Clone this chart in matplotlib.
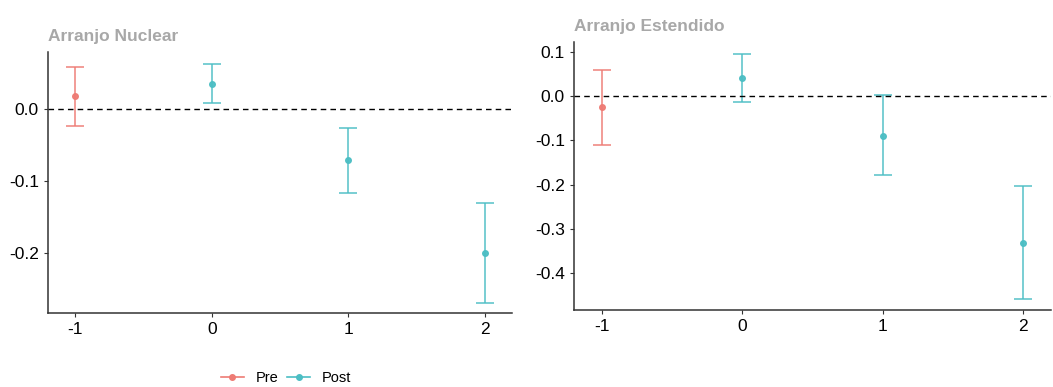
import matplotlib.pyplot as plt
from matplotlib.lines import Line2D

plt.rcParams['font.family'] = ['Liberation Sans', 'DejaVu Sans']
plt.rcParams['axes.unicode_minus'] = False

periods = [-1, 0, 1, 2]
groups = ['Pre', 'Post', 'Post', 'Post']

nuclear_est = [0.018, 0.035, -0.071, -0.200]
nuclear_lo = [-0.023, 0.008, -0.117, -0.269]
nuclear_hi = [0.058, 0.062, -0.026, -0.131]

extended_est = [-0.025, 0.041, -0.089, -0.332]
extended_lo = [-0.110, -0.012, -0.178, -0.459]
extended_hi = [0.059, 0.095, 0.002, -0.204]

colors = {'Pre': '#EE7B74', 'Post': '#4CBEC4'}
W, H = 1053, 387


def draw_panel(ax, est, lo, hi, title, yticks, ylim):
    for x, g, e, l, h in zip(periods, groups, est, lo, hi):
        c = colors[g]
        ax.errorbar([x], [e], yerr=[[e - l], [h - e]], fmt='o', color=c,
                    ms=4, elinewidth=1.1, capsize=6.5, capthick=1.1,
                    ecolor=c, alpha=0.95)
    ax.axhline(0, color='black', linestyle=(0, (4, 3)), linewidth=1)
    ax.set_xlim(-1.2, 2.2)
    ax.set_ylim(*ylim)
    ax.set_xticks(periods)
    ax.set_yticks(yticks)
    ax.set_yticklabels([f'{t:.1f}' for t in yticks])
    ax.tick_params(labelsize=12.5, colors='#333333', labelcolor='black', length=3)
    for s in ['top', 'right']:
        ax.spines[s].set_visible(False)
    for s in ['left', 'bottom']:
        ax.spines[s].set_color('#333333')
        ax.spines[s].set_linewidth(1.1)
    ax.set_title(title, loc='left', fontsize=12.5, fontweight='bold',
                 color='#A8A8A8', pad=8)


fig = plt.figure(figsize=(W / 100, H / 100), dpi=100)
ax1 = fig.add_axes([48 / W, 1 - 313 / H, (512 - 48) / W, (313 - 52) / H])
ax2 = fig.add_axes([574 / W, 1 - 310 / H, (1051 - 574) / W, (310 - 42) / H])

draw_panel(ax1, nuclear_est, nuclear_lo, nuclear_hi, 'Arranjo Nuclear',
           [0.0, -0.1, -0.2], (-0.283, 0.079))
draw_panel(ax2, extended_est, extended_lo, extended_hi, 'Arranjo Estendido',
           [0.1, 0.0, -0.1, -0.2, -0.3, -0.4], (-0.484, 0.123))

handles = [Line2D([0], [0], color=colors[g], marker='o', ms=4, lw=1.2)
           for g in ['Pre', 'Post']]
fig.legend(handles, ['Pre', 'Post'], loc='center', bbox_to_anchor=(286 / W, 1 - 378 / H),
           ncol=2, frameon=False, fontsize=10.5, handlelength=1.6,
           columnspacing=0.6, handletextpad=0.8)

fig.savefig('out.png', dpi=100)
